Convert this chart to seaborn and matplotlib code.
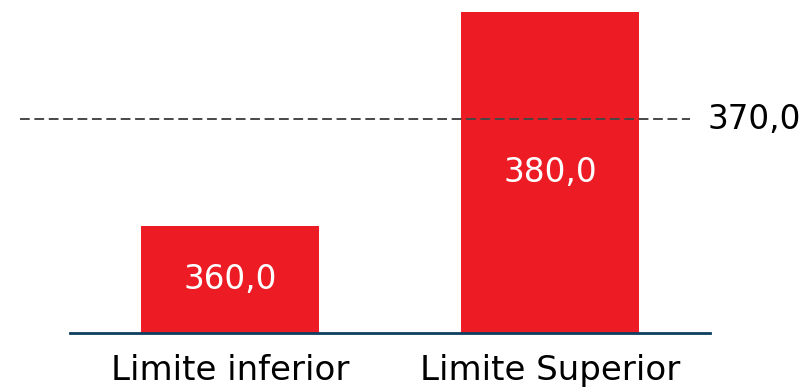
import matplotlib
matplotlib.use("Agg")
import matplotlib.pyplot as plt
import matplotlib.transforms as mtransforms
import seaborn as sns
import pandas as pd

categories = ["Limite inferior", "Limite Superior"]
values = [360.0, 380.0]
reference_value = 370.0

sns.set_theme(style="white")
plt.rcParams["font.family"] = ["DejaVu Sans"]

df = pd.DataFrame({"categoria": categories, "valor": values})

fig = plt.figure(figsize=(8.08, 3.89), dpi=100)
ax = fig.add_axes([70 / 808, 1 - 333 / 389, 640 / 808, 321 / 389])

sns.barplot(data=df, x="categoria", y="valor", color="#ED1C24", saturation=1,
            width=0.556, linewidth=0, ax=ax)

ax.set_ylim(350, 380)
ax.set_xlim(-0.5, 1.5)

for i, v in enumerate(values):
    ax.text(i, (350 + v) / 2, f"{v:.1f}".replace(".", ","), ha="center", va="center",
            color="white", fontsize=23.5)

trans = mtransforms.blended_transform_factory(fig.transFigure, ax.transData)
ax.plot([20 / 808, 690 / 808], [reference_value, reference_value], transform=trans,
        color="#474747", lw=1.4, ls=(0, (5, 2.4)), clip_on=False, zorder=5)
ax.text(707 / 808, reference_value, f"{reference_value:.1f}".replace(".", ","),
        transform=trans, ha="left", va="center", fontsize=23.5, color="black")

for s in ["top", "right", "left"]:
    ax.spines[s].set_visible(False)
ax.spines["bottom"].set_color("#0E3F5E")
ax.spines["bottom"].set_linewidth(2)
ax.set_yticks([])
ax.set_xlabel("")
ax.set_ylabel("")
ax.tick_params(axis="x", length=0, labelsize=24.5, pad=15, labelcolor="black")

fig.savefig("out.png", dpi=100)
